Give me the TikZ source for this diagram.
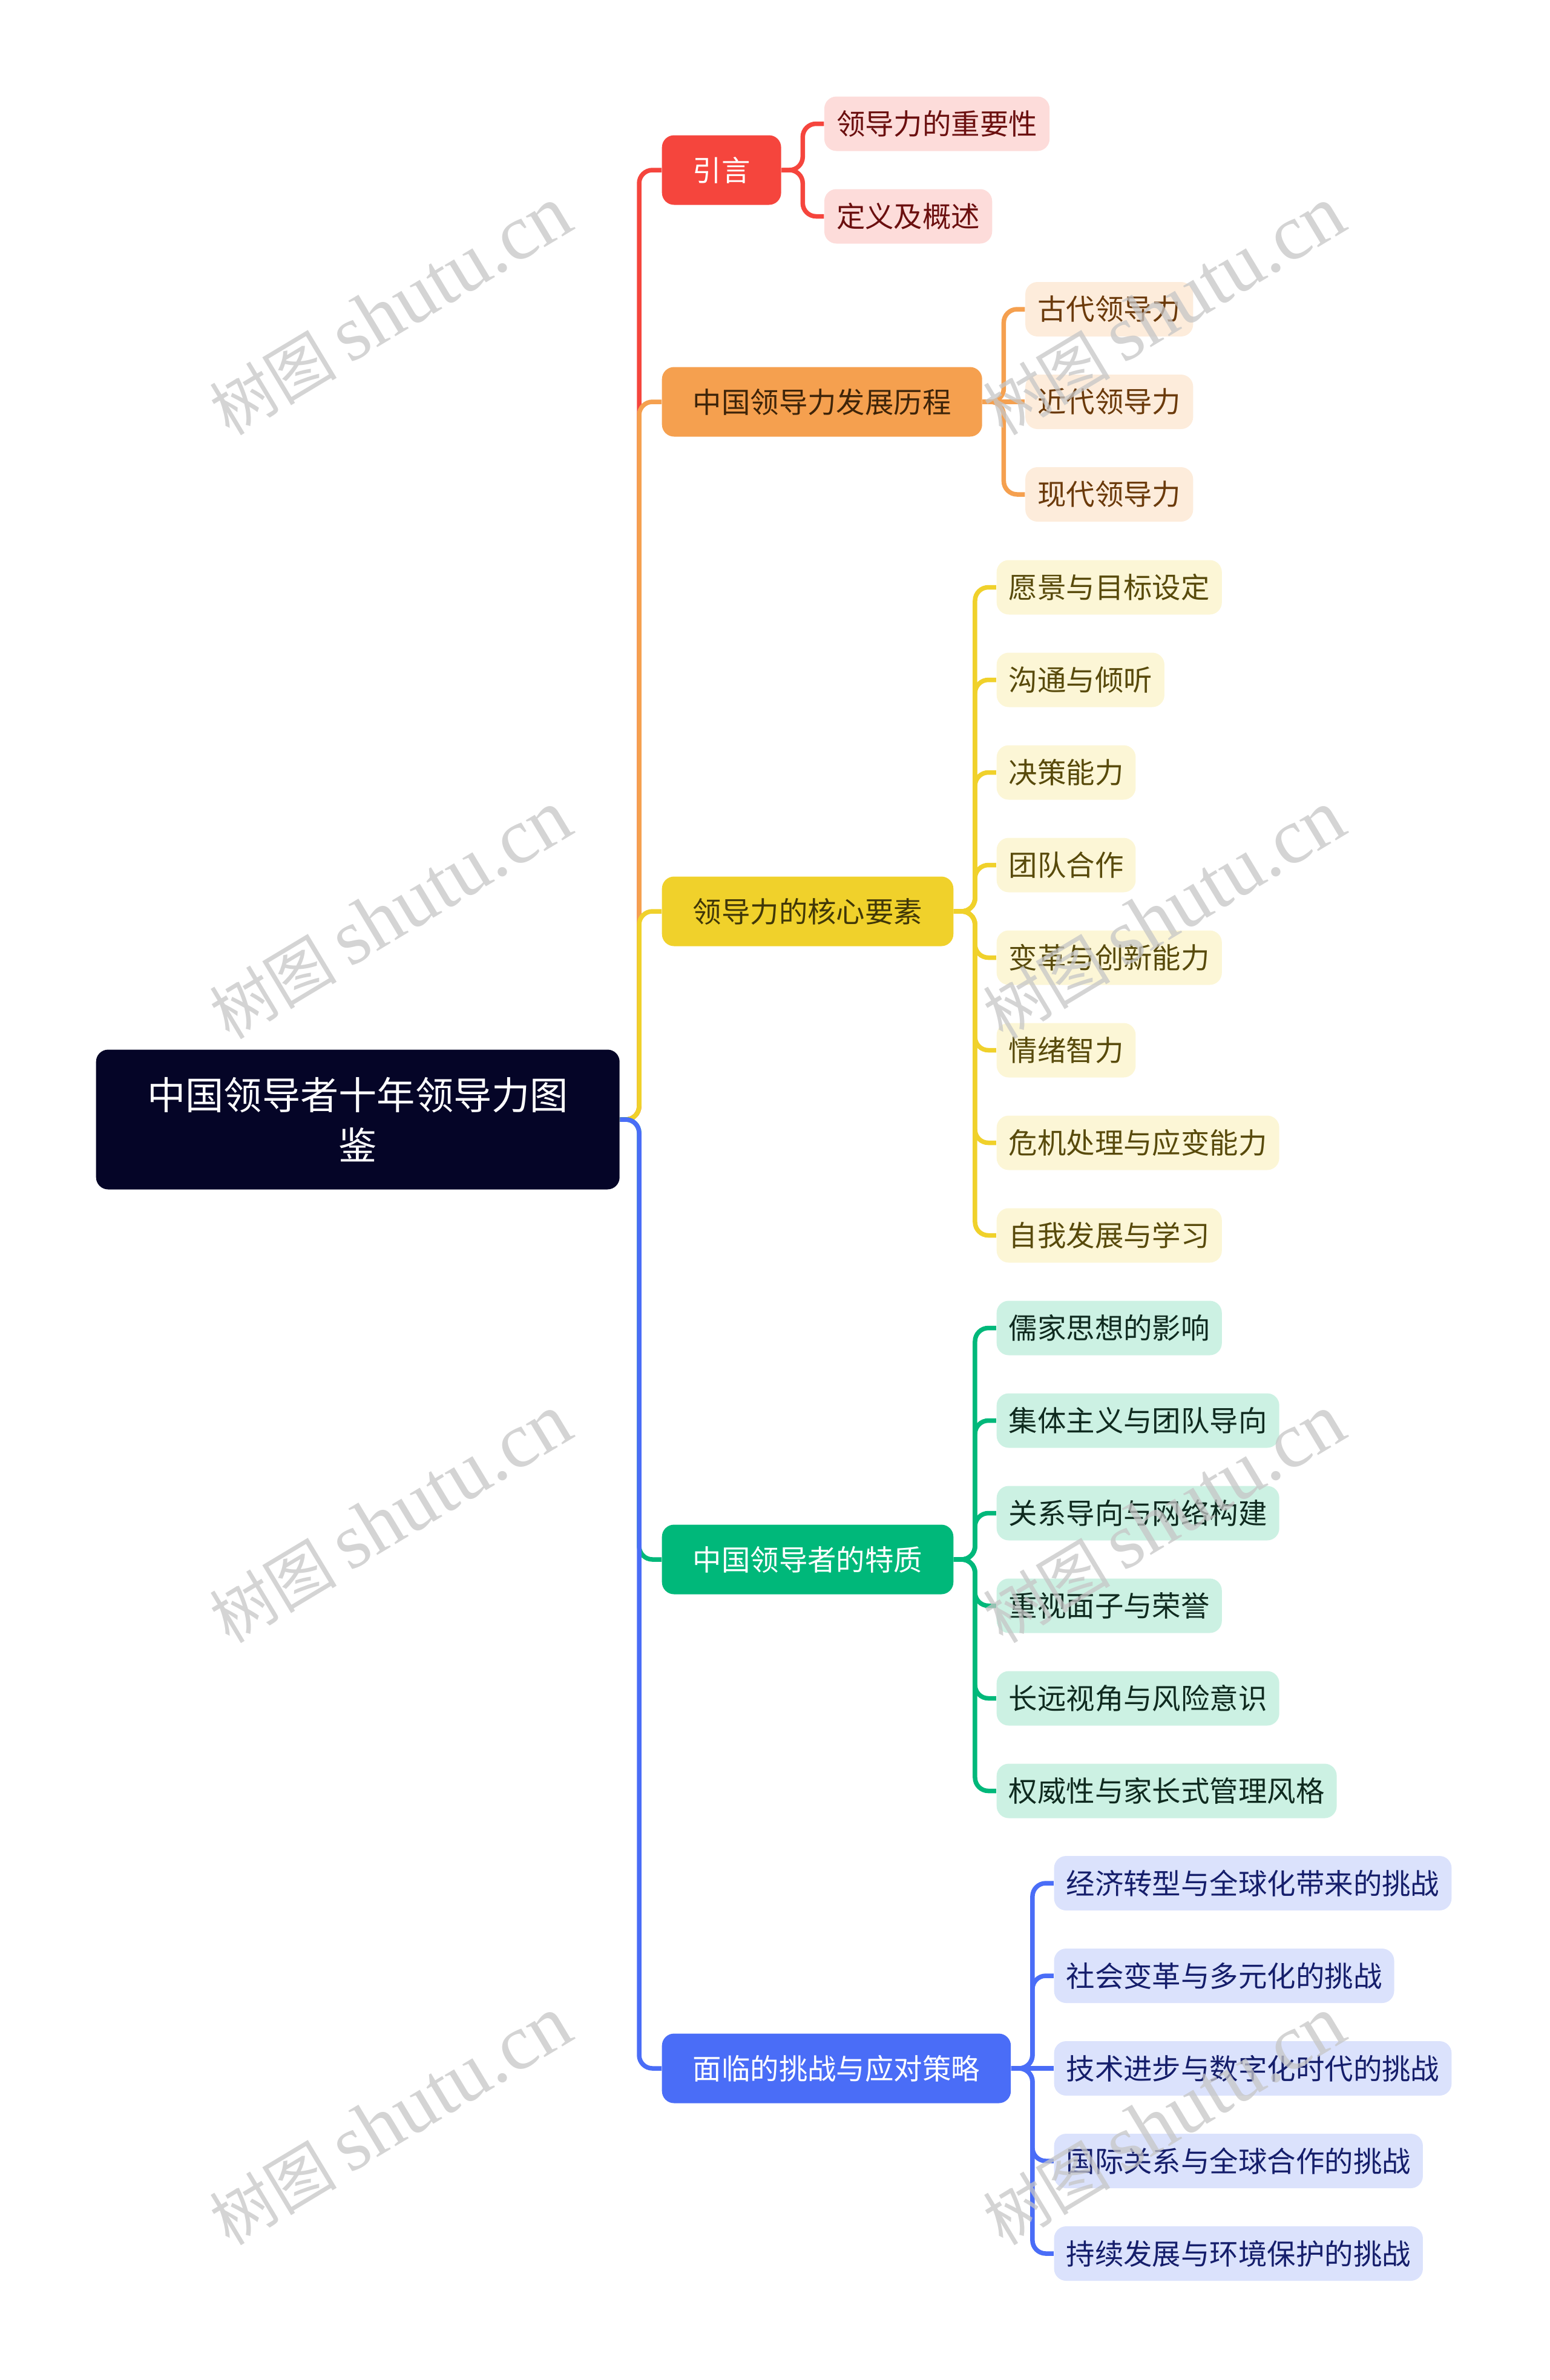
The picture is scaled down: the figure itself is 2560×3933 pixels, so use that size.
\documentclass[tikz,border=0pt]{standalone}
\usepackage{fontspec}
\setmainfont{Noto Sans CJK SC}
\newfontfamily\wmlatin{Liberation Serif}
\usepackage{xcolor}
\usetikzlibrary{calc}

\definecolor{rootbg}{HTML}{050527}
\definecolor{redA}{HTML}{F5453D}
\definecolor{orangeA}{HTML}{F5A04F}
\definecolor{yellowA}{HTML}{F0D12B}
\definecolor{greenA}{HTML}{00B87A}
\definecolor{blueA}{HTML}{4A6DF7}
\definecolor{orangeT}{HTML}{3E2409}
\definecolor{yellowT}{HTML}{403708}
\definecolor{redL}{HTML}{FDDCDA}
\definecolor{orangeL}{HTML}{FDECDB}
\definecolor{yellowL}{HTML}{FCF6D6}
\definecolor{greenL}{HTML}{CCF1E3}
\definecolor{blueL}{HTML}{DBE2FC}
\definecolor{redLT}{HTML}{6B0F0F}
\definecolor{orangeLT}{HTML}{6B3A0B}
\definecolor{yellowLT}{HTML}{584A0B}
\definecolor{greenLT}{HTML}{0F2A1F}
\definecolor{blueLT}{HTML}{151E6B}

\newcommand{\wmtext}{{\fontsize{30}{36}\selectfont 树图}\,{\wmlatin shutu.cn}}

\begin{document}
\begin{tikzpicture}[x=0.1mm,y=-0.1mm,
    root/.style={rectangle,rounded corners=2mm,fill=rootbg,text=white,anchor=west,
      minimum width=86.5mm,minimum height=23.1mm,align=center,
      font=\fontsize{18}{23.5}\selectfont},
    branch/.style={rectangle,rounded corners=2mm,anchor=west,inner xsep=5.1mm,
      inner ysep=0pt,minimum height=11.5mm,font=\fontsize{13.5}{16}\selectfont},
    leaf/.style={rectangle,rounded corners=2mm,anchor=west,inner xsep=2mm,
      inner ysep=0pt,minimum height=9mm,font=\fontsize{13.5}{16}\selectfont},
    link/.style={line width=0.75mm,rounded corners=2.2mm},
    wmark/.style={rotate=31,text=gray!45,opacity=0.75,font=\fontsize{37}{44}\selectfont}]
      \useasboundingbox (0,0) rectangle (2560,3933);

      % root and main branches
      \node (root) at (158,1850) [root] {中国领导者十年领导力图\\鉴};
      \coordinate (trunk) at (1056,1850);

      \node (intro) at (1093,281) [branch,fill=redA,text=white] {引言};
      \node (history) at (1093,664) [branch,fill=orangeA,text=orangeT] {中国领导力发展历程};
      \node (core) at (1093,1506) [branch,fill=yellowA,text=yellowT] {领导力的核心要素};
      \node (traits) at (1093,2577) [branch,fill=greenA,text=white] {中国领导者的特质};
      \node (challenge) at (1093,3418) [branch,fill=blueA,text=white] {面临的挑战与应对策略};

      \draw[link,redA] (root.east) -- (trunk) |- (intro.west);
      \draw[link,orangeA] (root.east) -- (trunk) |- (history.west);
      \draw[link,yellowA] (root.east) -- (trunk) |- (core.west);
      \draw[link,greenA] (root.east) -- (trunk) |- (traits.west);
      \draw[link,blueA] (root.east) -- (trunk) |- (challenge.west);

      % intro
      \node (intro1) at ($(intro.east)+(70,-76.5)$) [leaf,fill=redL,text=redLT] {领导力的重要性};
      \node (intro2) at ($(intro.east)+(70,76.5)$) [leaf,fill=redL,text=redLT] {定义及概述};
      \draw[link,redA] (intro.east) -- ++(35,0) |- (intro1.west);
      \draw[link,redA] (intro.east) -- ++(35,0) |- (intro2.west);

      % history
      \node (hist1) at ($(history.east)+(70,-153)$) [leaf,fill=orangeL,text=orangeLT] {古代领导力};
      \node (hist2) at ($(history.east)+(70,0)$) [leaf,fill=orangeL,text=orangeLT] {近代领导力};
      \node (hist3) at ($(history.east)+(70,153)$) [leaf,fill=orangeL,text=orangeLT] {现代领导力};
      \draw[link,orangeA] (history.east) -- ++(35,0) |- (hist1.west);
      \draw[link,orangeA] (history.east) -- (hist2.west);
      \draw[link,orangeA] (history.east) -- ++(35,0) |- (hist3.west);

      % core elements
      \node (core1) at ($(core.east)+(70,-535.5)$) [leaf,fill=yellowL,text=yellowLT] {愿景与目标设定};
      \node (core2) at ($(core.east)+(70,-382.5)$) [leaf,fill=yellowL,text=yellowLT] {沟通与倾听};
      \node (core3) at ($(core.east)+(70,-229.5)$) [leaf,fill=yellowL,text=yellowLT] {决策能力};
      \node (core4) at ($(core.east)+(70,-76.5)$) [leaf,fill=yellowL,text=yellowLT] {团队合作};
      \node (core5) at ($(core.east)+(70,76.5)$) [leaf,fill=yellowL,text=yellowLT] {变革与创新能力};
      \node (core6) at ($(core.east)+(70,229.5)$) [leaf,fill=yellowL,text=yellowLT] {情绪智力};
      \node (core7) at ($(core.east)+(70,382.5)$) [leaf,fill=yellowL,text=yellowLT] {危机处理与应变能力};
      \node (core8) at ($(core.east)+(70,535.5)$) [leaf,fill=yellowL,text=yellowLT] {自我发展与学习};
      \draw[link,yellowA] (core.east) -- ++(35,0) |- (core1.west);
      \draw[link,yellowA] (core.east) -- ++(35,0) |- (core2.west);
      \draw[link,yellowA] (core.east) -- ++(35,0) |- (core3.west);
      \draw[link,yellowA] (core.east) -- ++(35,0) |- (core4.west);
      \draw[link,yellowA] (core.east) -- ++(35,0) |- (core5.west);
      \draw[link,yellowA] (core.east) -- ++(35,0) |- (core6.west);
      \draw[link,yellowA] (core.east) -- ++(35,0) |- (core7.west);
      \draw[link,yellowA] (core.east) -- ++(35,0) |- (core8.west);

      % traits
      \node (trait1) at ($(traits.east)+(70,-382.5)$) [leaf,fill=greenL,text=greenLT] {儒家思想的影响};
      \node (trait2) at ($(traits.east)+(70,-229.5)$) [leaf,fill=greenL,text=greenLT] {集体主义与团队导向};
      \node (trait3) at ($(traits.east)+(70,-76.5)$) [leaf,fill=greenL,text=greenLT] {关系导向与网络构建};
      \node (trait4) at ($(traits.east)+(70,76.5)$) [leaf,fill=greenL,text=greenLT] {重视面子与荣誉};
      \node (trait5) at ($(traits.east)+(70,229.5)$) [leaf,fill=greenL,text=greenLT] {长远视角与风险意识};
      \node (trait6) at ($(traits.east)+(70,382.5)$) [leaf,fill=greenL,text=greenLT] {权威性与家长式管理风格};
      \draw[link,greenA] (traits.east) -- ++(35,0) |- (trait1.west);
      \draw[link,greenA] (traits.east) -- ++(35,0) |- (trait2.west);
      \draw[link,greenA] (traits.east) -- ++(35,0) |- (trait3.west);
      \draw[link,greenA] (traits.east) -- ++(35,0) |- (trait4.west);
      \draw[link,greenA] (traits.east) -- ++(35,0) |- (trait5.west);
      \draw[link,greenA] (traits.east) -- ++(35,0) |- (trait6.west);

      % challenges
      \node (chal1) at ($(challenge.east)+(70,-306)$) [leaf,fill=blueL,text=blueLT] {经济转型与全球化带来的挑战};
      \node (chal2) at ($(challenge.east)+(70,-153)$) [leaf,fill=blueL,text=blueLT] {社会变革与多元化的挑战};
      \node (chal3) at ($(challenge.east)+(70,0)$) [leaf,fill=blueL,text=blueLT] {技术进步与数字化时代的挑战};
      \node (chal4) at ($(challenge.east)+(70,153)$) [leaf,fill=blueL,text=blueLT] {国际关系与全球合作的挑战};
      \node (chal5) at ($(challenge.east)+(70,306)$) [leaf,fill=blueL,text=blueLT] {持续发展与环境保护的挑战};
      \draw[link,blueA] (challenge.east) -- ++(35,0) |- (chal1.west);
      \draw[link,blueA] (challenge.east) -- ++(35,0) |- (chal2.west);
      \draw[link,blueA] (challenge.east) -- (chal3.west);
      \draw[link,blueA] (challenge.east) -- ++(35,0) |- (chal4.west);
      \draw[link,blueA] (challenge.east) -- ++(35,0) |- (chal5.west);

      % watermarks
      \node (wm1) at (645,514) [wmark] {\wmtext};
      \node (wm2) at (1923,514) [wmark] {\wmtext};
      \node (wm3) at (645,1512) [wmark] {\wmtext};
      \node (wm4) at (1923,1512) [wmark] {\wmtext};
      \node (wm5) at (645,2510) [wmark] {\wmtext};
      \node (wm6) at (1923,2510) [wmark] {\wmtext};
      \node (wm7) at (645,3505) [wmark] {\wmtext};
      \node (wm8) at (1923,3505) [wmark] {\wmtext};
    \end{tikzpicture}
\end{document}
